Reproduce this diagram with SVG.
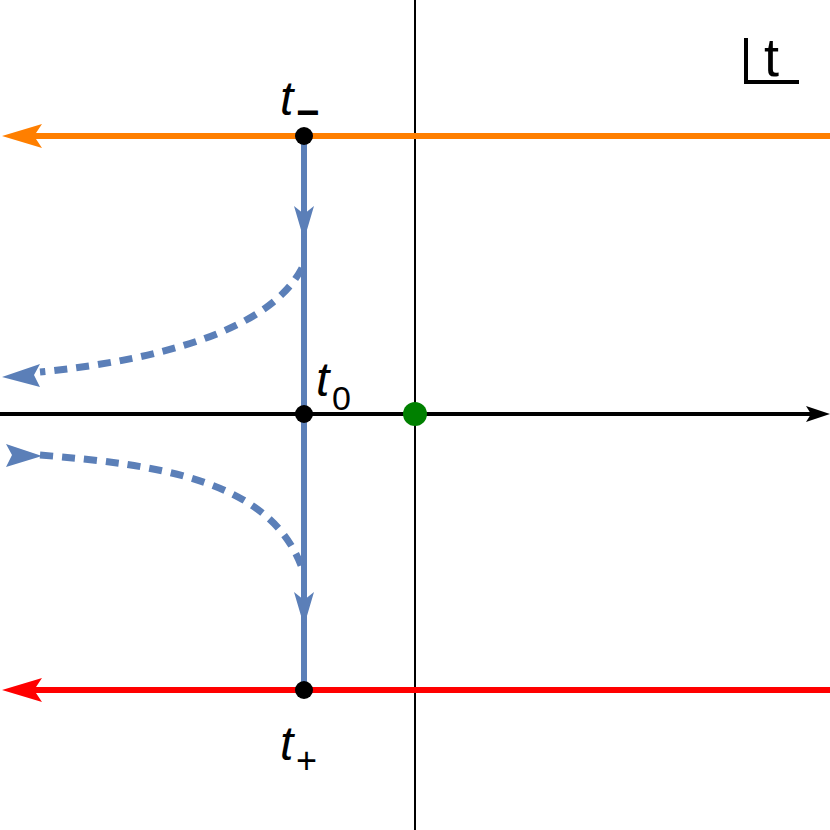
<svg xmlns="http://www.w3.org/2000/svg" width="830" height="830" viewBox="0 0 830 830">
<style>
.lbl{font-family:"Liberation Sans",Arial,sans-serif;fill:#000}
.it{font-style:italic}
.blue{stroke:#5b7fb8;fill:none}
</style>
<rect width="830" height="830" fill="#fff"/>
<g id="connectors">
<line x1="415" y1="0" x2="415" y2="830" stroke="#000" stroke-width="2"/>
<line x1="0" y1="414" x2="812" y2="414" stroke="#000" stroke-width="4"/>
<path d="M830,414 L806,406 L811,414 L806,422 z" fill="#000"/>
<line x1="830" y1="136" x2="30" y2="136" stroke="#ff7f00" stroke-width="6"/>
<path d="M2,136 L42,124 L34,136 L42,148 z" fill="#ff7f00"/>
<line x1="830" y1="690" x2="30" y2="690" stroke="#ff0000" stroke-width="6"/>
<path d="M2,690 L42,678 L34,690 L42,702 z" fill="#ff0000"/>
<line x1="304" y1="136" x2="304" y2="690" class="blue" stroke-width="6"/>
<path d="M304,240 L294,206 L304,214 L314,206 z" fill="#5b7fb8"/>
<path d="M304,626 L294,592 L304,600 L314,592 z" fill="#5b7fb8"/>
<path d="M302,268 C270,330 160,360 40,372" class="blue" stroke-width="7" stroke-dasharray="13,9"/>
<path d="M2,377 L40,364 L34,375 L40,387 z" fill="#5b7fb8"/>
<path d="M40,455 C160,465 270,480 302,568" class="blue" stroke-width="7" stroke-dasharray="13,9"/>
<path d="M42,456 L6,444 L12,455 L6,467 z" fill="#5b7fb8"/>
</g>
<g id="t-minus"><circle cx="304" cy="136" r="9"/><text class="lbl it" x="280" y="115" font-size="48">t</text><text class="lbl" x="296" y="126" font-size="40" font-weight="bold">−</text></g>
<g id="t-zero"><circle cx="304" cy="414" r="9"/><text class="lbl it" x="316" y="396" font-size="48">t</text><text class="lbl" x="332" y="410" font-size="34">0</text></g>
<g id="t-plus"><circle cx="304" cy="690" r="9"/><text class="lbl it" x="280" y="760" font-size="48">t</text><text class="lbl" x="296" y="773" font-size="36">+</text></g>
<g id="origin"><circle cx="415" cy="414" r="12" fill="#008000"/></g>
<g id="label-t"><path d="M746,38 V82 H799" fill="none" stroke="#000" stroke-width="4"/><text class="lbl" x="764" y="76" font-size="54">t</text></g>
</svg>
